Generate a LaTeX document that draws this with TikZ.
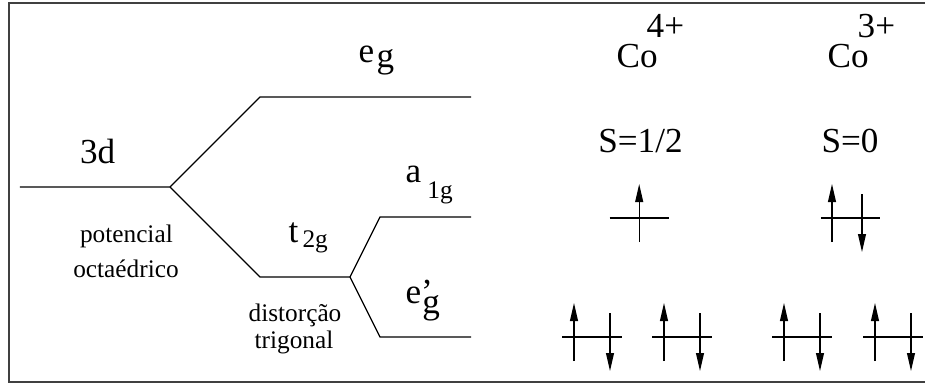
\documentclass[tikz,border=0pt]{standalone}
\usepackage{fontspec}
\setmainfont{Liberation Serif}
\usepackage{tikz}
\usetikzlibrary{arrows.meta}

\tikzset{
    lbl/.style={inner sep=0pt, font=\fontsize{12.5}{15}\selectfont},
    smalllbl/.style={inner sep=0pt, font=\fontsize{9}{11}\selectfont},
    level/.style={line width=0.45pt},
    spin/.style={line width=0.45pt, -{Triangle[length=6.4pt, width=2.8pt]}}
}

\begin{document}
\begin{tikzpicture}
    \useasboundingbox (0, 0) rectangle (11.5625, 4.8375);
    \draw[line width=0.7pt, black!75] (0.1125, 0.0625) rectangle (11.75, 4.8);

    % energy levels
    \coordinate (d3L) at (0.25, 2.5);
    \coordinate (d3R) at (2.125, 2.5);
    \coordinate (egL) at (3.25, 3.625);
    \coordinate (egR) at (5.89, 3.625);
    \coordinate (t2L) at (3.25, 1.375);
    \coordinate (t2R) at (4.375, 1.375);
    \coordinate (a1L) at (4.75, 2.125);
    \coordinate (a1R) at (5.89, 2.125);
    \coordinate (epL) at (4.75, 0.625);
    \coordinate (epR) at (5.89, 0.625);

    \draw[level] (d3L) -- (d3R) -- (egL) -- (egR);
    \draw[level] (d3R) -- (t2L) -- (t2R) -- (a1L) -- (a1R);
    \draw[level] (t2R) -- (epL) -- (epR);

    \node[lbl, anchor=base] at (1.22, 2.8) (d3) {3d};
    \node[lbl, anchor=base west] at (4.475, 4.0625) (eg) {e\kern0.07em\raisebox{-0.17em}{g}};
    \node[lbl, anchor=base west] at (5.0625, 2.5625) (a1g) {a\kern0.18em\raisebox{-0.47em}{\fontsize{9}{10}\selectfont 1g}};
    \node[lbl, anchor=base west] at (3.6, 1.8125) (t2g) {t\kern0.12em\raisebox{-0.17em}{\fontsize{9}{10}\selectfont 2g}};
    \node[lbl, anchor=base west] at (5.0625, 1.05) (egp) {e’\kern-0.3em\raisebox{-0.29em}{g}};

    \node[smalllbl, anchor=base] at (1.58, 1.8125) (pot) {potencial};
    \node[smalllbl, anchor=base] at (1.575, 1.375) (oct) {octaédrico};
    \node[smalllbl, anchor=base] at (3.6875, 0.825) (dist) {distorção};
    \node[smalllbl, anchor=base] at (3.675, 0.4875) (trig) {trigonal};

    % ions
    \node[lbl, anchor=base west] at (7.7, 4.0) (co4) {Co\kern-0.31em\raisebox{0.83em}{4+}};
    \node[lbl, anchor=base west] at (10.3375, 4.0) (co3) {Co\kern-0.31em\raisebox{0.83em}{3+}};
    \node[lbl, anchor=base] at (8.006, 2.9375) (s4) {S=1/2};
    \node[lbl, anchor=base] at (10.625, 2.9375) (s3) {S=0};

    % a1g occupation
    \draw[level] (7.62, 2.1125) -- (8.36, 2.1125);
    \draw[spin] (7.99, 1.8125) -- (7.99, 2.5375);
    \draw[level] (10.26, 2.1125) -- (11.0, 2.1125);
    \draw[spin] (10.40, 1.8125) -- (10.40, 2.5375);
    \draw[spin] (10.775, 2.4125) -- (10.775, 1.6875);

    % e'g occupation
    \foreach \x in {7.4, 8.525, 10.025, 11.1625} {
        \draw[level] (\x-0.37, 0.625) -- (\x+0.37, 0.625);
        \draw[spin] (\x-0.225, 0.325) -- (\x-0.225, 1.05);
        \draw[spin] (\x+0.225, 0.925) -- (\x+0.225, 0.2);
    }
\end{tikzpicture}
\end{document}
